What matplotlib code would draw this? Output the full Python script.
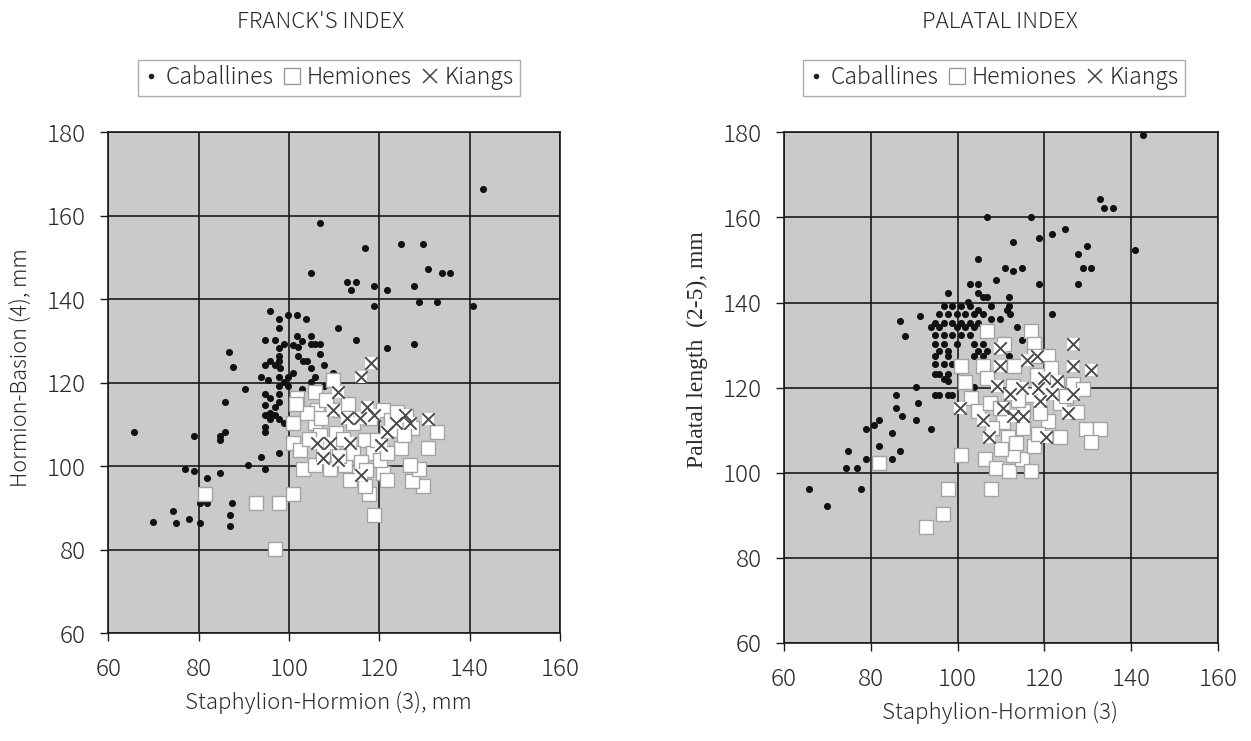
import matplotlib
matplotlib.use("Agg")
import matplotlib.pyplot as plt
from matplotlib.lines import Line2D

plt.rcParams['font.family'] = ['Noto Sans CJK JP', 'DejaVu Sans']
plt.rcParams['font.weight'] = 'light'

# ---------------- data: FRANCK'S INDEX ----------------
fr_cab_x = [142.9,106.9,116.8,124.8,129.7,130.8,133.8,135.7,104.8,112.8,114.8,113.8,118.8,121.8,127.7,128.8,132.8,140.8,118.8,
            95.8,97.8,99.8,101.8,103.8,97.8,110.8,94.8,96.8,101.8,104.8,114.8,121.8,127.7,98.8,101.0,102.0,102.8,104.8,105.8,106.8,
            97.8,86.8,87.7,106.8,97.8,102.1,95.8,94.8,96.8,97.8,98.0,103.0,104.0,104.8,107.8,100.8,93.8,95.3,97.8,99.8,97.8,98.8,99.8,
            105.8,104.8,109.8,107.8,102.8,90.3,94.8,95.8,97.8,85.8,94.8,96.8,97.8,96.8,94.8,95.8,97.8,98.8,94.8,94.8,85.8,84.8,84.8,
            78.9,65.8,97.8,93.8,90.9,94.8,76.9,78.9,84.8,81.8,80.3,81.8,87.3,74.4,86.9,69.8,74.9,77.8,80.3,86.9,104.0,95.8]
fr_cab_y = [166.3,158.2,152.2,153.3,153.3,147.2,146.3,146.3,146.3,144.2,144.2,142.2,143.3,142.2,143.3,139.3,139.3,138.3,138.3,
            137.2,135.3,136.3,136.3,135.2,133.2,133.2,130.3,130.3,131.2,131.2,130.3,128.3,129.2,129.2,129.0,128.5,130.0,129.2,129.2,129.2,
            128.3,127.3,123.8,126.8,126.3,126.3,125.3,124.3,124.3,125.3,123.5,125.3,125.3,123.5,124.3,122.3,121.3,120.7,121.3,121.3,119.3,120.3,119.3,
            121.3,120.3,122.3,119.3,118.5,118.5,117.4,116.3,117.4,115.3,114.7,114.3,115.3,112.3,112.3,111.4,111.4,110.3,109.4,108.3,108.3,107.3,106.3,
            107.3,108.3,103.3,102.2,100.3,99.3,99.3,98.8,98.4,97.3,91.2,91.2,91.2,89.3,88.3,86.7,86.4,87.3,86.4,85.7,113.5,112.8]

fr_hem_x = [81.5,92.8,97.8,100.8,96.8,118.8,117.8,129.7,127.2,128.8,126.8,124.8,130.8,132.8,127.2,120.8,121.8,116.8,115.5,116.8,
            100.8,100.8,101.8,105.8,109.8,106.2,105.8,103.0,105.8,109.0,112.4,106.9,109.8,114.2,118.7,120.9,123.1,119.4,114.2,111.3,
            108.3,103.9,102.4,113.5,120.1,121.6,101.5,110.5,112.0,116.0,118.0,122.5,125.5,107.5,104.5,111.0,117.0,124.0,126.0,113.0,107.0]
fr_hem_y = [93.4,91.3,91.3,93.4,80.3,88.3,93.4,95.3,96.4,99.3,100.3,104.3,104.3,108.3,109.2,98.4,96.8,95.3,98.4,106.3,
            105.5,110.3,116.3,117.9,120.7,113.4,110.3,99.3,100.3,99.3,100.3,107.5,104.0,103.1,103.1,113.5,108.7,106.3,110.3,113.5,
            115.9,112.7,103.9,96.8,101.5,103.1,115.0,108.0,106.5,101.0,111.5,111.0,107.5,103.0,106.5,102.5,99.0,113.0,112.0,115.0,111.5]

fr_kia_x = [118.2,115.9,110.8,109.8,117.2,118.8,115.7,112.8,125.7,126.9,123.7,121.6,130.8,106.1,109.1,113.5,120.4,107.6,110.9,115.9]
fr_kia_y = [124.8,121.3,117.7,113.4,114.3,112.3,111.5,111.5,112.3,110.3,110.3,108.3,111.3,105.5,105.5,105.5,105.1,101.9,101.5,98.0]

# ---------------- data: PALATAL INDEX ----------------
pa_cab_x = [142.8,132.8,133.8,135.9,106.8,116.9,124.8,121.8,118.8,112.8,129.8,127.8,140.9,104.8,110.9,112.8,114.8,128.8,130.8,108.8,
            102.8,104.8,118.8,127.8,97.9,104.8,105.8,106.8,111.8,102.3,96.8,98.8,100.8,102.8,107.8,111.8,104.8,111.3,112.0,91.3,86.8,
            95.8,97.8,99.8,101.8,103.8,105.8,94.8,96.8,98.8,100.8,102.8,104.8,107.8,109.8,93.8,95.8,99.8,101.8,103.8,121.8,113.8,87.8,
            94.8,96.8,98.8,100.8,102.8,114.8,94.8,96.8,99.8,103.8,105.8,95.8,97.8,104.8,106.8,94.8,97.8,103.8,105.8,111.8,94.8,96.8,98.8,
            94.8,95.8,97.8,96.8,97.8,103.8,105.8,90.3,94.8,95.8,97.8,98.8,85.8,90.8,85.8,87.3,90.3,93.9,81.8,80.8,78.8,84.8,74.8,81.8,86.8,
            78.8,84.8,74.3,76.8,65.8,77.8,69.8]
pa_cab_y = [179.3,164.3,162.2,162.2,160.2,160.2,157.3,156.2,155.2,154.3,153.2,151.3,152.3,150.3,148.2,147.3,148.2,148.2,148.2,145.3,
            144.3,144.3,144.3,144.3,142.2,142.2,141.2,141.2,141.2,140.2,139.2,139.2,139.2,139.2,139.2,139.2,138.2,138.2,137.3,136.8,135.7,
            137.3,137.3,137.3,137.3,137.3,137.3,135.3,135.3,135.3,135.3,135.3,135.3,136.1,136.1,134.3,134.3,134.3,134.3,134.3,137.3,134.3,132.2,
            132.3,132.3,132.3,132.3,132.3,131.2,130.3,130.3,130.3,130.3,130.3,128.6,128.6,128.6,128.6,127.4,127.4,127.4,127.4,127.4,125.5,125.5,125.5,
            123.3,123.3,123.3,122.0,121.5,120.2,121.5,120.2,118.2,118.2,118.2,118.2,118.2,116.3,115.3,113.3,112.3,110.2,112.3,111.3,110.2,109.3,105.2,106.3,105.2,
            103.2,103.2,101.2,101.2,96.2,96.2,92.2]

pa_hem_x = [92.7,96.7,97.7,107.8,81.8,100.7,106.3,108.8,111.8,114.8,112.8,116.8,117.7,123.7,129.7,132.8,130.8,106.8,116.9,117.7,
            110.8,100.7,105.8,101.8,106.7,120.9,117.5,103.2,104.8,107.5,126.7,129.0,127.4,111.7,120.9,115.1,110.5,112.8,116.6,118.2,
            122.8,115.1,109.8,113.0,119.0,123.5,108.0,113.5,118.5,121.5,125.0,110.0,114.0,120.0]
pa_hem_y = [87.2,90.2,96.2,96.2,102.3,104.2,103.2,101.2,100.3,103.2,104.2,100.3,106.2,108.3,110.4,110.4,107.2,133.3,133.3,130.3,
            130.3,125.2,125.2,121.4,122.3,127.4,127.4,117.5,114.5,116.4,120.8,119.6,114.3,108.3,112.1,110.5,112.0,120.5,118.2,123.0,
            120.8,114.5,115.2,125.0,114.0,116.5,110.5,107.0,109.0,124.5,118.0,105.5,117.0,119.5]

pa_kia_x = [126.7,126.7,130.8,109.8,109.8,115.9,118.2,119.8,122.8,109.0,114.8,118.6,121.7,126.7,112.1,100.6,110.5,115.1,112.8,
            125.5,105.8,107.3,120.4,119.0]
pa_kia_y = [130.3,125.2,124.2,129.2,125.2,126.4,127.4,122.3,121.5,120.3,119.9,119.9,118.4,118.4,118.4,115.2,115.2,113.3,113.3,
            114.1,112.3,108.3,108.3,116.8]

yticks = [60, 80, 100, 120, 140, 160, 180]
xticks = [60, 80, 100, 120, 140, 160]

W, H = 1251, 741
fig = plt.figure(figsize=(W / 100, H / 100), dpi=100)
fig.patch.set_facecolor('white')

BG = '#c9cacc'
SQ_EDGE = '#a3a3a3'
X_COL = '#4a4a4a'
TXT = '#2a2a2a'


def make_ax(left, top, right, bottom):
    return fig.add_axes([left / W, 1 - bottom / H, (right - left) / W, (bottom - top) / H])


def style(ax, xpad):
    ax.set_facecolor(BG)
    ax.set_xlim(60, 160)
    ax.set_ylim(60, 180)
    ax.set_xticks(xticks)
    ax.set_yticks(yticks)
    ax.grid(True, color='#1a1a1a', linewidth=1.2)
    ax.set_axisbelow(True)
    for s in ax.spines.values():
        s.set_color('#1a1a1a')
        s.set_linewidth(1.2)
    ax.tick_params(axis='both', direction='out', length=6, width=1.0, color='#1a1a1a',
                   labelsize=17.5, labelcolor=TXT)
    ax.tick_params(axis='y', pad=10)
    ax.tick_params(axis='x', pad=xpad)


def draw(ax, cx, cy, hx, hy, kx, ky):
    ax.scatter(cx, cy, s=26, c='#111111', marker='o', linewidths=0, zorder=3)
    ax.scatter(hx, hy, s=100, c='white', marker='s', edgecolors=SQ_EDGE, linewidths=1.0, zorder=4)
    ax.scatter(kx, ky, s=85, c='white', marker='s', linewidths=0, zorder=5)
    ax.scatter(kx, ky, s=80, c=X_COL, marker='x', linewidths=1.4, zorder=6)


def legend(x0, x1, y0, y1):
    handles = [Line2D([], [], marker='o', color='none', markerfacecolor='#222222', markeredgecolor='none', markersize=4),
               Line2D([], [], marker='s', color='none', markerfacecolor='white', markeredgecolor='#999999', markersize=11, markeredgewidth=1.0),
               Line2D([], [], marker='x', color='none', markeredgecolor='#444444', markersize=10, markeredgewidth=1.1)]
    labels = ['Caballines', 'Hemiones', 'Kiangs']
    lg = fig.legend(handles, labels, ncol=3, loc='center',
                    bbox_to_anchor=((x0 + x1) / 2 / W, 1 - (y0 + y1) / 2 / H),
                    frameon=True, fancybox=False, edgecolor='#999999', fontsize=16.5,
                    handlelength=0.6, handletextpad=0.35, columnspacing=0.5,
                    borderpad=0.25, labelcolor=TXT)
    lg.get_frame().set_linewidth(1.0)
    return lg


ax1 = make_ax(108.3, 132.3, 560.0, 633.3)
style(ax1, 11)
draw(ax1, fr_cab_x, fr_cab_y, fr_hem_x, fr_hem_y, fr_kia_x, fr_kia_y)

ax2 = make_ax(784.0, 132.3, 1218.0, 643.0)
style(ax2, 11)
draw(ax2, pa_cab_x, pa_cab_y, pa_hem_x, pa_hem_y, pa_kia_x, pa_kia_y)

legend(135, 523, 58, 98)
legend(805, 1183, 58, 98)

fig.text(321 / W, 1 - 22 / H, "FRANCK'S INDEX", ha='center', va='center', fontsize=16, color=TXT)
fig.text(1000 / W, 1 - 22 / H, "PALATAL INDEX", ha='center', va='center', fontsize=16, color=TXT)

fig.text(328 / W, 1 - 703 / H, "Staphylion-Hormion (3), mm", ha='center', va='center', fontsize=16, color=TXT)
fig.text(1000 / W, 1 - 713 / H, "Staphylion-Hormion (3)", ha='center', va='center', fontsize=16, color=TXT)

fig.text(22 / W, 1 - 368 / H, "Hormion-Basion (4), mm", ha='center', va='center', rotation=90, fontsize=15.5, color=TXT)
fig.text(697 / W, 1 - 350 / H, "Palatal length  (2-5), mm", ha='center', va='center', rotation=90, fontsize=17,
         color=TXT, family=['Liberation Serif', 'DejaVu Serif'])

fig.savefig('out.png', dpi=100)
